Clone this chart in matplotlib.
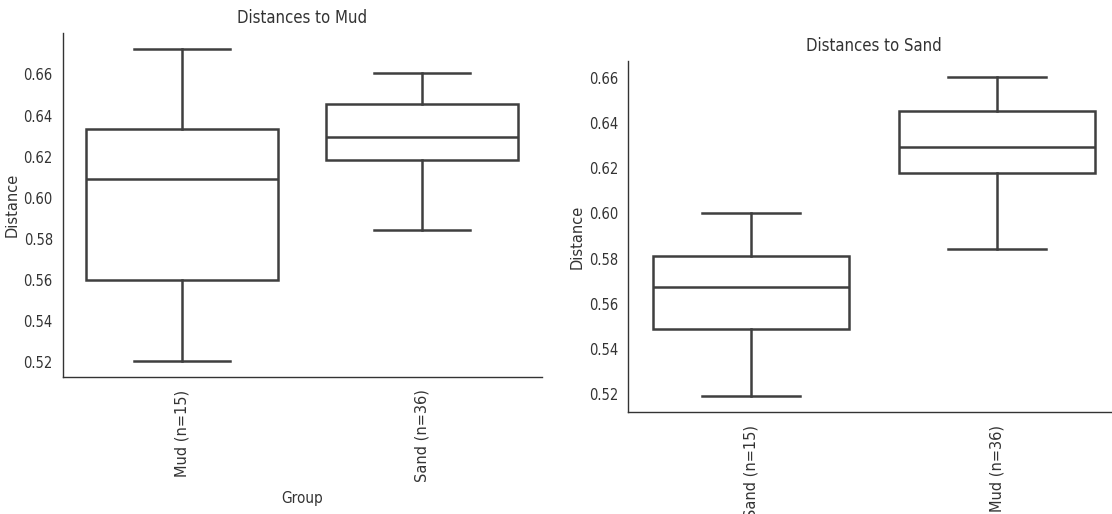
import matplotlib
matplotlib.use("Agg")
import matplotlib.pyplot as plt
from matplotlib.ticker import FormatStrFormatter

# Left panel: Distances to Mud
left_groups = ["Mud (n=15)", "Sand (n=36)"]
left_whislo = [0.5202, 0.5843]
left_q1 = [0.5599, 0.6184]
left_med = [0.6091, 0.6295]
left_q3 = [0.6333, 0.6455]
left_whishi = [0.6726, 0.6605]

# Right panel: Distances to Sand
right_groups = ["Sand (n=15)", "Mud (n=36)"]
right_whislo = [0.5193, 0.5841]
right_q1 = [0.5488, 0.6180]
right_med = [0.5676, 0.6293]
right_q3 = [0.5813, 0.6451]
right_whishi = [0.6000, 0.6603]

yticks = [0.52, 0.54, 0.56, 0.58, 0.60, 0.62, 0.64, 0.66]

LC = "#3f3f3f"

fig = plt.figure(figsize=(11.12, 5.14), dpi=100)
ax1 = fig.add_axes([62.5/1112, (514-377)/514, 479/1112, 344/514])
ax2 = fig.add_axes([628/1112, (514-412)/514, 492/1112, 351/514])


def draw(ax, groups, wlo, q1, med, q3, whi, title, xlabel):
    stats = []
    for g, a, b, c, d, e in zip(groups, wlo, q1, med, q3, whi):
        stats.append(dict(label=g, whislo=a, q1=b, med=c, q3=d, whishi=e, fliers=[]))
    ax.bxp(stats, positions=range(len(groups)), widths=0.8, patch_artist=True,
           showfliers=False,
           boxprops=dict(facecolor="white", edgecolor=LC, linewidth=1.8),
           medianprops=dict(color=LC, linewidth=1.8),
           whiskerprops=dict(color=LC, linewidth=1.8),
           capprops=dict(color=LC, linewidth=1.8),
           capwidths=0.4)
    ax.set_xlim(-0.5, len(groups) - 0.5)
    ax.margins(y=0.05)
    ax.autoscale(axis="y")
    ax.set_yticks(yticks)
    ax.yaxis.set_major_formatter(FormatStrFormatter("%.2f"))
    ax.set_xticks(range(len(groups)))
    ax.set_xticklabels(groups, rotation=90, fontsize=10.5, color="#333333")
    for t in ax.get_yticklabels():
        t.set_fontsize(10.5)
        t.set_fontstretch("condensed")
        t.set_color("#333333")
    ax.tick_params(axis="y", length=0, pad=7)
    ax.tick_params(axis="x", length=0, pad=9)
    ax.set_ylabel("Distance", fontsize=10.5, color="#333333", labelpad=3)
    ax.set_title(title, fontsize=12, color="#333333", fontstretch="condensed", pad=7)
    if xlabel:
        ax.set_xlabel(xlabel, fontsize=11, color="#333333", fontstretch="condensed",
                      labelpad=6)
    for s in ["top", "right"]:
        ax.spines[s].set_visible(False)
    for s in ["left", "bottom"]:
        ax.spines[s].set_color("#333333")
        ax.spines[s].set_linewidth(1.0)


draw(ax1, left_groups, left_whislo, left_q1, left_med, left_q3, left_whishi,
     "Distances to Mud", "Group")
draw(ax2, right_groups, right_whislo, right_q1, right_med, right_q3, right_whishi,
     "Distances to Sand", None)

fig.savefig("out.png", dpi=100, facecolor="white")
